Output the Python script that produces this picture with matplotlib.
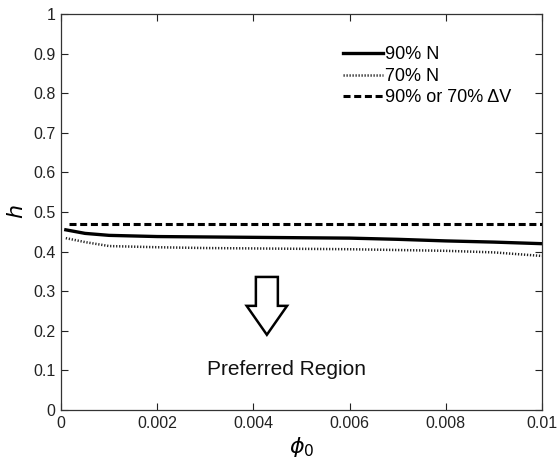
import matplotlib
matplotlib.use("Agg")
import matplotlib.pyplot as plt
from matplotlib.patches import FancyArrow

plt.rcParams['font.family'] = ['Liberation Sans', 'DejaVu Sans']
plt.rcParams['mathtext.fontset'] = 'dejavusans'

# Dane
phi0 = [0.0001, 0.0005, 0.001, 0.002, 0.003, 0.004, 0.005, 0.006, 0.007, 0.008, 0.009, 0.01]
h_90N = [0.455, 0.446, 0.441, 0.438, 0.437, 0.436, 0.435, 0.434, 0.431, 0.427, 0.424, 0.420]
h_70N = [0.434, 0.424, 0.414, 0.411, 0.409, 0.408, 0.407, 0.406, 0.404, 0.402, 0.398, 0.389]
phi0_dV = [0.00017, 0.01]
h_dV = [0.47, 0.47]

labels = ['90% N', '70% N', '90% or 70% ΔV']
region_text = 'Preferred Region'

fig = plt.figure(figsize=(5.58, 4.61), dpi=100)
ax = fig.add_axes([61/558, 1 - 410/461, (542 - 61)/558, (410 - 14)/461])

ax.plot(phi0, h_90N, color='black', lw=2.4, ls='-', label=labels[0])
ax.plot(phi0, h_70N, color='#222', lw=1.8, ls=(0, (0.5, 0.7)), label=labels[1])
ax.plot(phi0_dV, h_dV, color='black', lw=2.2, ls=(0, (2.3, 1.2)), label=labels[2])

# strzalka w dol
arrow_x = 0.00428
arrow_top = 0.336
arrow_tip = 0.19
arr = FancyArrow(arrow_x, arrow_top, 0, arrow_tip - arrow_top, width=0.000457,
                 head_width=0.00084, head_length=0.073, length_includes_head=True,
                 fc='white', ec='black', lw=1.8, zorder=3)
ax.add_patch(arr)
ax.text(0.00468, 0.088, region_text, ha='center', va='baseline', fontsize=15, color='#111')

ax.set_xlim(0, 0.01)
ax.set_ylim(0, 1)
ax.set_xticks([0, 0.002, 0.004, 0.006, 0.008, 0.01])
ax.set_xticklabels(['0', '0.002', '0.004', '0.006', '0.008', '0.01'])
ax.set_yticks([i / 10 for i in range(11)])
ax.set_yticklabels(['0', '0.1', '0.2', '0.3', '0.4', '0.5', '0.6', '0.7', '0.8', '0.9', '1'])
ax.tick_params(direction='in', top=True, right=True, length=5, width=0.8,
               labelsize=11.5, colors='#222', pad=4)
for s in ax.spines.values():
    s.set_linewidth(0.9)
    s.set_color('#333')

ax.set_ylabel('$h$', fontsize=16, labelpad=4)
ax.set_xlabel(r'$\phi_0$', fontsize=16, labelpad=3)

leg = ax.legend(loc='upper left', bbox_to_anchor=(0.586, 0.918), frameon=False,
                fontsize=13, handlelength=2.2, handletextpad=0.15,
                labelspacing=0.25, borderpad=0, borderaxespad=0)

fig.savefig('out.png', dpi=100)
